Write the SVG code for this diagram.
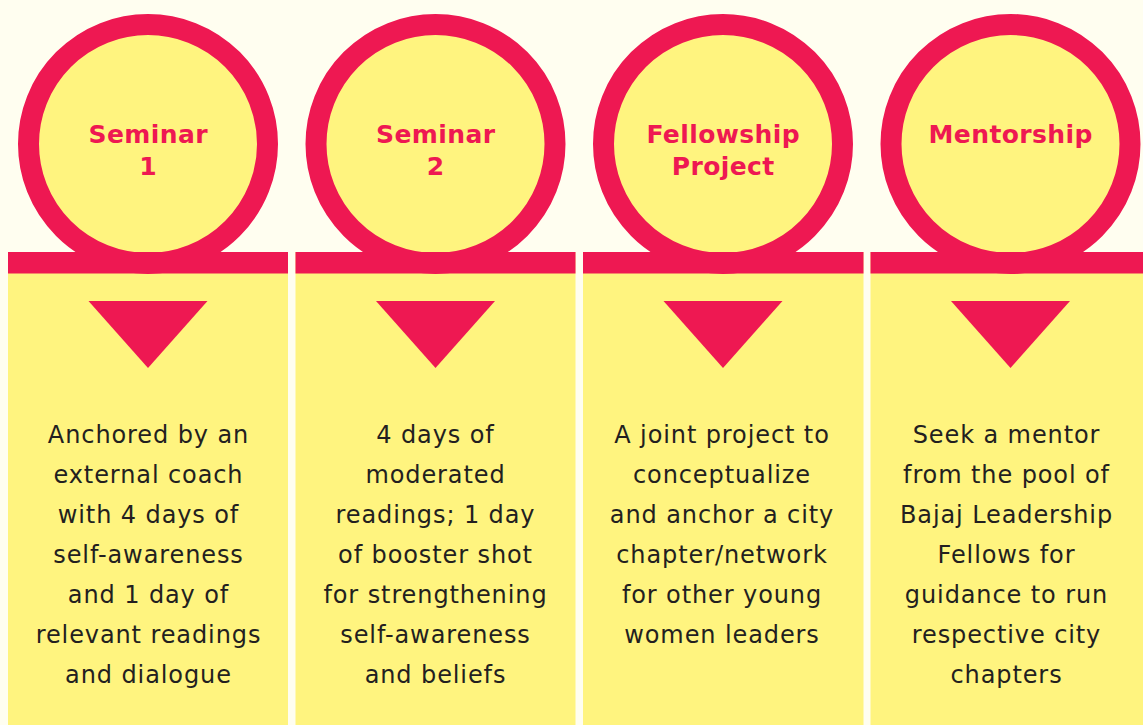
<svg xmlns="http://www.w3.org/2000/svg" width="1143" height="725" viewBox="0 0 1143 725">
<style>
.bg{fill:#fffef0}
.panel{fill:#fff47f}
.pink{fill:#ee1852}
.ring{fill:#fff47f;stroke:#ee1852;stroke-width:21}
.head{font-family:"DejaVu Sans",sans-serif;font-weight:bold;font-size:25px;fill:#ee1852;text-anchor:middle;letter-spacing:0.4px}
.body{font-family:"DejaVu Sans",sans-serif;font-size:24px;fill:#231f20;text-anchor:middle;letter-spacing:0.9px}
</style>
<rect class="bg" x="0" y="0" width="1143" height="725"/>
<g id="node-seminar1">
<rect class="panel" x="8" y="252" width="280" height="473"/>
<circle class="ring" cx="148" cy="144" r="119.5"/>
<rect class="pink" x="8" y="252" width="280" height="21.5"/>
<polygon class="pink" points="88.5,301 207.5,301 148,368"/>
<text class="head" x="148.2" y="143">Seminar</text>
<text class="head" x="148.2" y="175">1</text>
<text class="body"><tspan x="148.5" y="443">Anchored by an</tspan><tspan x="148.5" y="483">external coach</tspan><tspan x="148.5" y="523">with 4 days of</tspan><tspan x="148.5" y="563">self-awareness</tspan><tspan x="148.5" y="603">and 1 day of</tspan><tspan x="148.5" y="643">relevant readings</tspan><tspan x="148.5" y="683">and dialogue</tspan></text>
</g>
<g id="node-seminar2">
<rect class="panel" x="295.5" y="252" width="280" height="473"/>
<circle class="ring" cx="435.5" cy="144" r="119.5"/>
<rect class="pink" x="295.5" y="252" width="280" height="21.5"/>
<polygon class="pink" points="376,301 495,301 435.5,368"/>
<text class="head" x="435.7" y="143">Seminar</text>
<text class="head" x="435.7" y="175">2</text>
<text class="body"><tspan x="435.5" y="443">4 days of</tspan><tspan x="435.5" y="483">moderated</tspan><tspan x="435.5" y="523">readings; 1 day</tspan><tspan x="435.5" y="563">of booster shot</tspan><tspan x="435.5" y="603">for strengthening</tspan><tspan x="435.5" y="643">self-awareness</tspan><tspan x="435.5" y="683">and beliefs</tspan></text>
</g>
<g id="node-fellowship">
<rect class="panel" x="583" y="252" width="280.5" height="473"/>
<circle class="ring" cx="723" cy="144" r="119.5"/>
<rect class="pink" x="583" y="252" width="280.5" height="21.5"/>
<polygon class="pink" points="663.5,301 782.5,301 723,368"/>
<text class="head" x="723.2" y="143">Fellowship</text>
<text class="head" x="723.2" y="175">Project</text>
<text class="body"><tspan x="722" y="443">A joint project to</tspan><tspan x="722" y="483">conceptualize</tspan><tspan x="722" y="523">and anchor a city</tspan><tspan x="722" y="563">chapter/network</tspan><tspan x="722" y="603">for other young</tspan><tspan x="722" y="643">women leaders</tspan></text>
</g>
<g id="node-mentorship">
<rect class="panel" x="870.5" y="252" width="280" height="473"/>
<circle class="ring" cx="1010.5" cy="144" r="119.5"/>
<rect class="pink" x="870.5" y="252" width="280" height="21.5"/>
<polygon class="pink" points="951,301 1070,301 1010.5,368"/>
<text class="head" x="1010.7" y="143">Mentorship</text>
<text class="body"><tspan x="1006.5" y="443">Seek a mentor</tspan><tspan x="1006.5" y="483">from the pool of</tspan><tspan x="1006.5" y="523">Bajaj Leadership</tspan><tspan x="1006.5" y="563">Fellows for</tspan><tspan x="1006.5" y="603">guidance to run</tspan><tspan x="1006.5" y="643">respective city</tspan><tspan x="1006.5" y="683">chapters</tspan></text>
</g>
<g id="connectors"></g>
</svg>
